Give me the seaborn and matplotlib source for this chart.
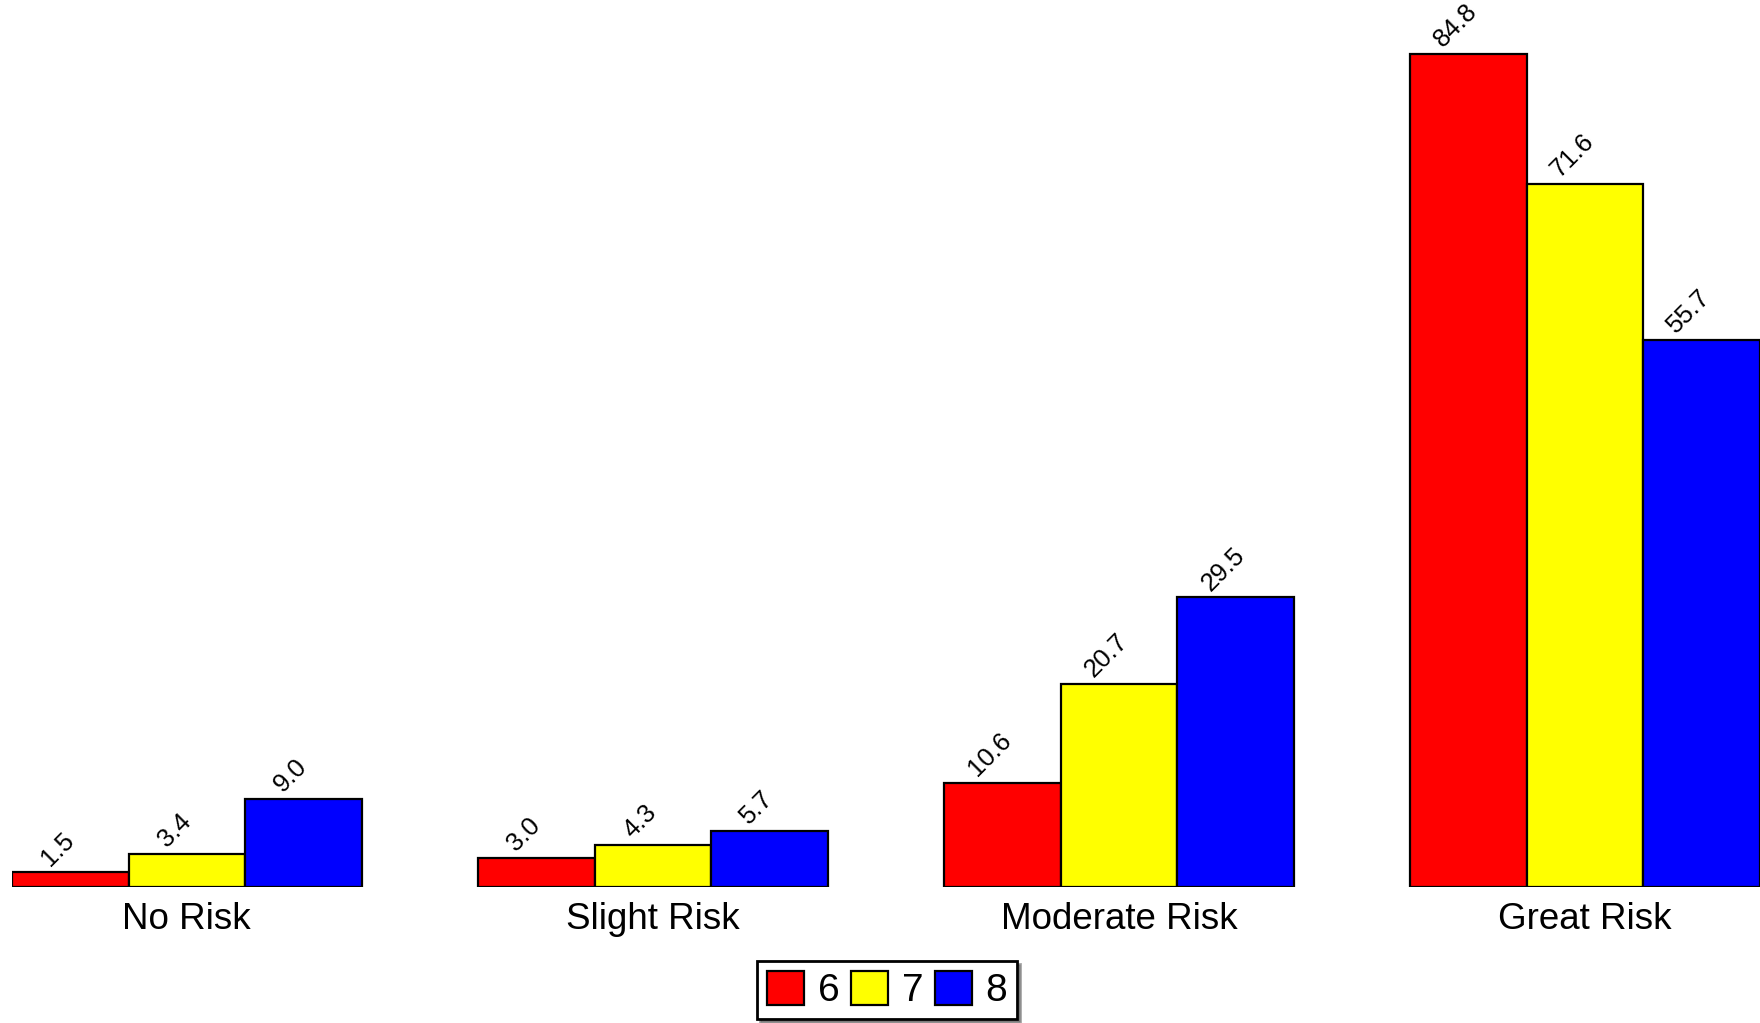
import pandas as pd
import matplotlib
matplotlib.use("Agg")
import matplotlib.pyplot as plt
import seaborn as sns

categories = ["No Risk", "Slight Risk", "Moderate Risk", "Great Risk"]
grades = ["6", "7", "8"]
grade6 = [1.5, 3.0, 10.6, 84.8]
grade7 = [3.4, 4.3, 20.7, 71.6]
grade8 = [9.0, 5.7, 29.5, 55.7]
colors = ["#ff0000", "#ffff00", "#0000ff"]

rows = []
for g, vals in zip(grades, [grade6, grade7, grade8]):
    for c, v in zip(categories, vals):
        rows.append({"risk": c, "grade": g, "value": v})
df = pd.DataFrame(rows)

sns.set_style("white")
plt.rcParams["font.family"] = ["Liberation Sans", "DejaVu Sans"]
plt.rcParams["text.color"] = "black"
plt.rcParams["xtick.color"] = "black"

fig = plt.figure(figsize=(17.6, 10.23), dpi=100)
ax = fig.add_axes([12 / 1760, 136 / 1023, 1 - 12 / 1760, 1 - 136 / 1023])

sns.barplot(data=df, x="risk", y="value", hue="grade", order=categories,
            hue_order=grades, palette=colors, width=0.75, saturation=1,
            edgecolor="black", linewidth=1.6, ax=ax)

# rotated value labels, nudged a little left like the original
for cont in ax.containers:
    anns = ax.bar_label(cont, fmt="%.1f", rotation=45, fontsize=18.5, color="black")
    for a in anns:
        a.xyann = (-9, 1.5)

ax.set_xlim(-0.375, 3.375)
ax.set_ylim(0, 90.3)
ax.set_xlabel("")
ax.set_ylabel("")
ax.set_yticks([])
ax.tick_params(axis="x", length=0, pad=11, labelsize=26.5, labelcolor="black")
for s in ax.spines.values():
    s.set_visible(False)

ax.get_legend().remove()
handles, labels = ax.get_legend_handles_labels()
leg = fig.legend(handles, labels, loc="lower center", bbox_to_anchor=(0.504, 0.004),
                 ncol=3, fontsize=28, frameon=True, fancybox=False, shadow=True,
                 edgecolor="black", handlelength=0.95, handleheight=0.95,
                 handletextpad=0.35, columnspacing=0.3, borderpad=0.25,
                 borderaxespad=0)
leg.get_frame().set_linewidth(2)

fig.savefig("out.png", dpi=100)
